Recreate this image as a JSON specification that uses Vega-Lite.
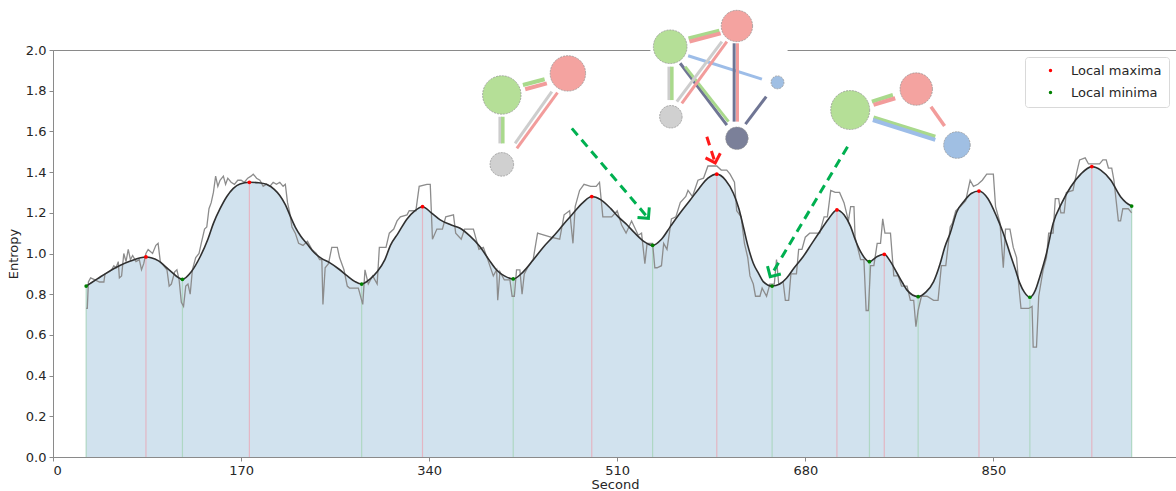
{
"$schema": "https://vega.github.io/schema/vega-lite/v6.json",
"width": 1124, "height": 407,
"autosize": "none",
"padding": {"left": 53, "top": 50, "right": 0, "bottom": 34},
"background": "white",
"config": {
  "font": "DejaVu Sans",
  "view": {"stroke": "#8a8a8a", "strokeWidth": 1},
  "axis": {"labelFont": "DejaVu Sans", "labelFontSize": 13, "labelColor": "#262626", "titleFont": "DejaVu Sans", "titleFontSize": 13, "titleFontWeight": "normal", "titleColor": "#262626", "domainColor": "#8a8a8a", "tickColor": "#8a8a8a", "tickSize": 4, "grid": false, "labelPadding": 3}
},
"datasets": {
"smooth": [
{"t":30,"e":0.84},{"t":40,"e":0.875},{"t":50,"e":0.91},{"t":60,"e":0.94},{"t":70,"e":0.963},{"t":84,"e":0.983},{"t":95,"e":0.965},{"t":105,"e":0.92},{"t":117,"e":0.873},{"t":125,"e":0.91},{"t":133,"e":0.984},{"t":140,"e":1.07},{"t":145,"e":1.148},{"t":151,"e":1.22},{"t":157,"e":1.279},{"t":163,"e":1.32},{"t":169,"e":1.342},{"t":177.5,"e":1.35},{"t":186,"e":1.348},{"t":193,"e":1.34},{"t":200,"e":1.315},{"t":205,"e":1.285},{"t":210,"e":1.24},{"t":214,"e":1.19},{"t":219,"e":1.13},{"t":224,"e":1.085},{"t":230,"e":1.045},{"t":236,"e":1.005},{"t":243,"e":0.975},{"t":250,"e":0.955},{"t":258,"e":0.925},{"t":266,"e":0.89},{"t":273,"e":0.862},{"t":279,"e":0.85},{"t":286,"e":0.872},{"t":293,"e":0.91},{"t":300,"e":0.97},{"t":305,"e":1.04},{"t":312,"e":1.1},{"t":320,"e":1.17},{"t":327,"e":1.21},{"t":334,"e":1.23},{"t":342,"e":1.2},{"t":350,"e":1.165},{"t":360,"e":1.14},{"t":368,"e":1.124},{"t":377,"e":1.085},{"t":386,"e":1.033},{"t":394,"e":0.97},{"t":401,"e":0.919},{"t":408,"e":0.89},{"t":416,"e":0.875},{"t":425,"e":0.91},{"t":434,"e":0.968},{"t":443,"e":1.03},{"t":452,"e":1.083},{"t":461,"e":1.14},{"t":470,"e":1.197},{"t":479,"e":1.25},{"t":487,"e":1.28},{"t":495,"e":1.265},{"t":504,"e":1.222},{"t":511,"e":1.18},{"t":519,"e":1.14},{"t":526,"e":1.1},{"t":534,"e":1.06},{"t":542,"e":1.04},{"t":550,"e":1.07},{"t":558,"e":1.132},{"t":567,"e":1.2},{"t":576,"e":1.263},{"t":584,"e":1.32},{"t":592,"e":1.37},{"t":600,"e":1.39},{"t":608,"e":1.36},{"t":615,"e":1.296},{"t":620,"e":1.22},{"t":624,"e":1.132},{"t":628,"e":1.04},{"t":633,"e":0.952},{"t":638,"e":0.9},{"t":642,"e":0.862},{"t":650,"e":0.84},{"t":657,"e":0.85},{"t":663,"e":0.878},{"t":670,"e":0.93},{"t":678,"e":0.984},{"t":686,"e":1.05},{"t":693,"e":1.107},{"t":701,"e":1.17},{"t":708.6,"e":1.214},{"t":715,"e":1.19},{"t":721,"e":1.132},{"t":725,"e":1.07},{"t":730,"e":1.009},{"t":738,"e":0.96},{"t":745,"e":0.985},{"t":751.4,"e":0.996},{"t":757,"e":0.96},{"t":763,"e":0.903},{"t":768,"e":0.855},{"t":772,"e":0.82},{"t":782,"e":0.788},{"t":789,"e":0.81},{"t":796,"e":0.862},{"t":802,"e":0.952},{"t":806,"e":1.03},{"t":811,"e":1.1},{"t":817,"e":1.205},{"t":824,"e":1.26},{"t":830,"e":1.295},{"t":837,"e":1.307},{"t":845,"e":1.27},{"t":853,"e":1.181},{"t":859,"e":1.1},{"t":865,"e":1.0},{"t":870,"e":0.92},{"t":874,"e":0.853},{"t":878,"e":0.81},{"t":883,"e":0.785},{"t":888,"e":0.82},{"t":892,"e":0.886},{"t":898,"e":1.0},{"t":904,"e":1.148},{"t":912,"e":1.25},{"t":920,"e":1.328},{"t":929,"e":1.39},{"t":939,"e":1.427},{"t":947,"e":1.41},{"t":956,"e":1.361},{"t":965,"e":1.279},{"t":970,"e":1.25},{"t":975,"e":1.233}
],
"raw": [
{"t":30,"e":0.73},{"t":31,"e":0.73},{"t":32,"e":0.86},{"t":34,"e":0.88},{"t":38,"e":0.87},{"t":42,"e":0.86},{"t":46,"e":0.86},{"t":47,"e":0.9},{"t":51,"e":0.91},{"t":53,"e":0.92},{"t":55,"e":0.94},{"t":57,"e":0.93},{"t":59,"e":0.96},{"t":60,"e":0.88},{"t":62,"e":0.89},{"t":64,"e":1.0},{"t":66,"e":0.96},{"t":68,"e":1.02},{"t":70,"e":0.97},{"t":72,"e":0.99},{"t":75,"e":0.96},{"t":78,"e":0.97},{"t":80,"e":0.92},{"t":82,"e":0.95},{"t":84,"e":1.0},{"t":86,"e":1.02},{"t":90,"e":1.0},{"t":93,"e":1.04},{"t":95,"e":1.05},{"t":97,"e":0.96},{"t":100,"e":0.94},{"t":103,"e":0.92},{"t":105,"e":0.84},{"t":107,"e":0.85},{"t":110,"e":0.91},{"t":112,"e":0.92},{"t":114,"e":0.87},{"t":116,"e":0.76},{"t":118,"e":0.74},{"t":120,"e":0.84},{"t":122,"e":0.85},{"t":124,"e":0.8},{"t":126,"e":0.92},{"t":129,"e":0.98},{"t":132,"e":1.0},{"t":134,"e":1.05},{"t":137,"e":1.12},{"t":139,"e":1.13},{"t":141,"e":1.22},{"t":143,"e":1.25},{"t":145,"e":1.3},{"t":147,"e":1.38},{"t":149,"e":1.33},{"t":151,"e":1.36},{"t":154,"e":1.38},{"t":156,"e":1.34},{"t":158,"e":1.37},{"t":161,"e":1.35},{"t":164,"e":1.34},{"t":167,"e":1.36},{"t":170,"e":1.36},{"t":173,"e":1.35},{"t":176,"e":1.37},{"t":179,"e":1.38},{"t":181,"e":1.39},{"t":184,"e":1.37},{"t":187,"e":1.36},{"t":190,"e":1.33},{"t":193,"e":1.34},{"t":196,"e":1.33},{"t":199,"e":1.35},{"t":202,"e":1.34},{"t":205,"e":1.35},{"t":208,"e":1.33},{"t":210,"e":1.34},{"t":212,"e":1.25},
{"t":214,"e":1.2},{"t":216,"e":1.13},{"t":219,"e":1.1},{"t":222,"e":1.05},{"t":226,"e":1.04},{"t":230,"e":1.06},{"t":234,"e":1.02},{"t":238,"e":1.0},{"t":241,"e":0.97},{"t":243,"e":0.97},{"t":244,"e":0.75},{"t":246,"e":0.93},{"t":249,"e":0.95},{"t":252,"e":1.03},{"t":257,"e":1.03},{"t":259,"e":0.98},{"t":263,"e":0.92},{"t":266,"e":0.84},{"t":268,"e":0.83},{"t":276,"e":0.83},{"t":280,"e":0.75},{"t":282,"e":0.92},{"t":285,"e":0.85},{"t":289,"e":0.89},{"t":293,"e":0.85},{"t":295,"e":1.03},{"t":301,"e":1.03},{"t":304,"e":1.1},{"t":308,"e":1.12},{"t":311,"e":1.16},{"t":314,"e":1.18},{"t":320,"e":1.19},{"t":322,"e":1.21},{"t":328,"e":1.21},{"t":331,"e":1.33},{"t":338,"e":1.34},{"t":341,"e":1.34},{"t":343,"e":1.07},{"t":347,"e":1.12},{"t":352,"e":1.12},{"t":355,"e":1.18},{"t":362,"e":1.19},{"t":364,"e":1.1},{"t":369,"e":1.07},{"t":372,"e":1.12},{"t":380,"e":1.12},{"t":385,"e":1.02},{"t":389,"e":1.03},{"t":393,"e":0.97},{"t":398,"e":0.89},{"t":401,"e":0.92},{"t":402,"e":0.77},{"t":404,"e":0.91},{"t":408,"e":0.87},{"t":413,"e":0.87},
{"t":415,"e":0.79},{"t":417,"e":0.79},{"t":419,"e":0.92},{"t":422,"e":0.92},{"t":424,"e":0.8},{"t":426,"e":0.9},{"t":429,"e":0.93},{"t":434,"e":0.97},{"t":438,"e":1.1},{"t":444,"e":1.09},{"t":450,"e":1.08},{"t":458,"e":1.07},{"t":462,"e":1.19},{"t":467,"e":1.21},{"t":470,"e":1.05},{"t":472,"e":1.23},{"t":476,"e":1.31},{"t":480,"e":1.34},{"t":486,"e":1.33},{"t":491,"e":1.33},{"t":494,"e":1.35},{"t":497,"e":1.18},{"t":505,"e":1.18},{"t":510,"e":1.21},{"t":514,"e":1.14},{"t":518,"e":1.1},{"t":523,"e":1.16},{"t":529,"e":1.09},{"t":532,"e":1.1},{"t":535,"e":0.95},{"t":537,"e":1.05},{"t":542,"e":1.05},{"t":544,"e":0.93},{"t":546,"e":0.93},{"t":550,"e":0.94},{"t":552,"e":1.05},{"t":555,"e":1.02},{"t":559,"e":1.17},{"t":563,"e":1.18},{"t":567,"e":1.25},{"t":572,"e":1.28},{"t":574,"e":1.31},{"t":578,"e":1.28},{"t":583,"e":1.36},{"t":588,"e":1.37},{"t":592,"e":1.43},{"t":600,"e":1.43},{"t":604,"e":1.41},
{"t":609,"e":1.41},{"t":612,"e":1.39},{"t":616,"e":1.35},{"t":618,"e":1.21},{"t":622,"e":1.18},{"t":625,"e":1.05},{"t":628,"e":0.98},{"t":630,"e":0.89},{"t":633,"e":0.85},{"t":635,"e":0.79},{"t":639,"e":0.79},{"t":641,"e":0.83},{"t":645,"e":0.79},{"t":648,"e":0.85},{"t":652,"e":0.85},{"t":654,"e":0.97},{"t":656,"e":0.85},{"t":660,"e":0.86},{"t":662,"e":0.77},{"t":665,"e":0.77},{"t":667,"e":0.9},{"t":672,"e":0.9},{"t":674,"e":1.02},{"t":677,"e":1.02},{"t":680,"e":1.08},{"t":684,"e":1.1},{"t":693,"e":1.1},{"t":697,"e":1.18},{"t":700,"e":1.18},{"t":703,"e":1.31},{"t":707,"e":1.3},{"t":711,"e":1.3},{"t":715,"e":1.25},{"t":719,"e":1.16},{"t":721,"e":1.23},{"t":724,"e":1.23},{"t":725,"e":1.08},{"t":730,"e":0.97},{"t":733,"e":0.97},{"t":735,"e":0.72},{"t":737,"e":0.72},{"t":739,"e":0.94},{"t":742,"e":0.94},{"t":745,"e":1.05},{"t":748,"e":1.05},{"t":750,"e":1.17},{"t":752,"e":1.1},{"t":757,"e":1.1},{"t":760,"e":0.89},{"t":764,"e":0.89},{"t":767,"e":0.84},{"t":772,"e":0.84},{"t":775,"e":0.77},{"t":778,"e":0.77},{"t":780,"e":0.64},{"t":782,"e":0.72},{"t":785,"e":0.79},{"t":790,"e":0.79},{"t":796,"e":0.77},{"t":800,"e":0.77},{"t":803,"e":0.94},{"t":807,"e":0.94},
{"t":811,"e":1.13},{"t":813,"e":1.15},{"t":816,"e":1.21},{"t":820,"e":1.23},{"t":825,"e":1.26},{"t":829,"e":1.36},{"t":832,"e":1.33},{"t":836,"e":1.34},{"t":840,"e":1.36},{"t":844,"e":1.39},{"t":850,"e":1.39},{"t":852,"e":1.23},{"t":856,"e":1.15},{"t":859,"e":0.93},{"t":861,"e":1.12},{"t":865,"e":1.12},{"t":868,"e":1.03},{"t":871,"e":0.98},{"t":873,"e":0.84},{"t":875,"e":0.73},{"t":882,"e":0.73},{"t":885,"e":0.74},{"t":886,"e":0.54},{"t":889,"e":0.54},{"t":891,"e":0.79},{"t":895,"e":0.92},{"t":898,"e":0.98},{"t":900,"e":1.1},{"t":904,"e":1.1},{"t":906,"e":1.27},{"t":909,"e":1.27},{"t":911,"e":1.2},{"t":914,"e":1.2},{"t":916,"e":1.3},{"t":922,"e":1.31},{"t":925,"e":1.39},{"t":928,"e":1.46},{"t":933,"e":1.47},{"t":936,"e":1.44},{"t":946,"e":1.44},{"t":949,"e":1.46},{"t":952,"e":1.46},{"t":954,"e":1.42},{"t":957,"e":1.42},{"t":959,"e":1.36},{"t":961,"e":1.26},{"t":963,"e":1.16},{"t":965,"e":1.16},{"t":967,"e":1.22},{"t":972,"e":1.22},{"t":975,"e":1.2}
],
"extrema": [
{"t":30,"e":0.84,"type":"Local minima"},{"t":117,"e":0.873,"type":"Local minima"},{"t":279,"e":0.85,"type":"Local minima"},{"t":416,"e":0.875,"type":"Local minima"},{"t":542,"e":1.04,"type":"Local minima"},{"t":650,"e":0.84,"type":"Local minima"},{"t":738,"e":0.96,"type":"Local minima"},{"t":782,"e":0.788,"type":"Local minima"},{"t":883,"e":0.785,"type":"Local minima"},{"t":975,"e":1.233,"type":"Local minima"},
{"t":84,"e":0.983,"type":"Local maxima"},{"t":177.5,"e":1.35,"type":"Local maxima"},{"t":334,"e":1.23,"type":"Local maxima"},{"t":487,"e":1.28,"type":"Local maxima"},{"t":600,"e":1.39,"type":"Local maxima"},{"t":708.6,"e":1.214,"type":"Local maxima"},{"t":751.4,"e":0.996,"type":"Local maxima"},{"t":837,"e":1.307,"type":"Local maxima"},{"t":939,"e":1.427,"type":"Local maxima"}
],
"boxes": [{"t":540,"t2":664,"e":1.97,"e2":2.03}],
"edges": [
{"t":424.8,"e":1.828,"t2":444.4,"e2":1.856,"kind":"green","w":"heavy"},
{"t":426.8,"e":1.807,"t2":446.4,"e2":1.836,"kind":"red","w":"heavy"},
{"t":404.2,"e":1.672,"t2":404.2,"e2":1.541,"kind":"gray","w":"mid"},
{"t":406.6,"e":1.672,"t2":406.6,"e2":1.541,"kind":"green","w":"mid"},
{"t":450.9,"e":1.795,"t2":417.7,"e2":1.541,"kind":"gray","w":"light"},
{"t":456.0,"e":1.79,"t2":419.3,"e2":1.517,"kind":"red","w":"light"},
{"t":574.4,"e":2.057,"t2":602.3,"e2":2.095,"kind":"green","w":"heavy"},
{"t":575.3,"e":2.041,"t2":603.5,"e2":2.082,"kind":"red","w":"heavy"},
{"t":557.0,"e":1.918,"t2":557.0,"e2":1.754,"kind":"gray","w":"mid"},
{"t":559.4,"e":1.918,"t2":559.4,"e2":1.754,"kind":"green","w":"mid"},
{"t":574.1,"e":1.972,"t2":640.8,"e2":1.857,"kind":"blue","w":"light"},
{"t":566.9,"e":1.935,"t2":609.1,"e2":1.631,"kind":"navy","w":"light"},
{"t":571.4,"e":1.918,"t2":610.6,"e2":1.648,"kind":"green","w":"light"},
{"t":604.6,"e":2.041,"t2":563.9,"e2":1.746,"kind":"gray","w":"light"},
{"t":609.1,"e":2.041,"t2":568.4,"e2":1.738,"kind":"red","w":"light"},
{"t":615.7,"e":2.033,"t2":615.7,"e2":1.648,"kind":"navy","w":"light"},
{"t":618.7,"e":2.033,"t2":618.7,"e2":1.648,"kind":"red","w":"light"},
{"t":644.7,"e":1.771,"t2":625.9,"e2":1.636,"kind":"navy","w":"light"},
{"t":740.2,"e":1.746,"t2":759.2,"e2":1.779,"kind":"green","w":"heavy"},
{"t":741.7,"e":1.73,"t2":761.3,"e2":1.763,"kind":"red","w":"heavy"},
{"t":741.7,"e":1.669,"t2":797.5,"e2":1.574,"kind":"green","w":"heavy"},
{"t":741.1,"e":1.656,"t2":797.5,"e2":1.558,"kind":"blue","w":"heavy"},
{"t":793.6,"e":1.721,"t2":805.9,"e2":1.627,"kind":"red","w":"mid"}
],
"nodes": [
{"t":405.7,"e":1.779,"kind":"green","w":21.7},
{"t":465.4,"e":1.885,"kind":"red","w":20},
{"t":405.7,"e":1.438,"kind":"gray","w":13.3},
{"t":557.9,"e":2.016,"kind":"green","w":19},
{"t":618.2,"e":2.118,"kind":"red","w":17.7},
{"t":654.9,"e":1.841,"kind":"blue","w":7.3},
{"t":558.5,"e":1.672,"kind":"gray","w":12.7},
{"t":618.2,"e":1.566,"kind":"navy","w":12.7},
{"t":720.6,"e":1.705,"kind":"green","w":22},
{"t":780.3,"e":1.808,"kind":"red","w":18.3},
{"t":817.1,"e":1.533,"kind":"blue","w":15}
],
"arrows": [
{"t":469.0,"e":1.615,"t2":538.2,"e2":1.173,"kind":"min","dir":49.6},
{"t":591.0,"e":1.574,"t2":598.6,"e2":1.445,"kind":"max","dir":72.5},
{"t":718.2,"e":1.525,"t2":648.3,"e2":0.886,"kind":"min","dir":120.7}
]
},
"layer": [
{
  "data": {"name": "smooth"},
  "mark": {"type": "area", "interpolate": "monotone", "color": "#d1e2ee", "opacity": 1},
  "encoding": {
    "x": {"field": "t", "type": "quantitative", "scale": {"domain": [0, 1016], "nice": false, "zero": false},
          "axis": {"title": "Second", "values": [0, 170, 340, 510, 680, 850], "titlePadding": 1}},
    "y": {"field": "e", "type": "quantitative", "scale": {"domain": [0, 2], "nice": false},
          "axis": {"title": "Entropy", "values": [0, 0.2, 0.4, 0.6, 0.8, 1.0, 1.2, 1.4, 1.6, 1.8, 2.0], "format": ".1f", "titlePadding": 5}}
  }
},
{
  "data": {"name": "extrema"},
  "mark": {"type": "rule", "strokeWidth": 1.2},
  "encoding": {
    "x": {"field": "t", "type": "quantitative"},
    "y": {"field": "e", "type": "quantitative"},
    "y2": {"datum": 0},
    "color": {"field": "type", "type": "nominal", "scale": {"domain": ["Local maxima", "Local minima"], "range": ["#e3b6c3", "#afd7c4"]}, "legend": null}
  }
},
{
  "data": {"name": "raw"},
  "mark": {"type": "line", "color": "#8c8c8c", "strokeWidth": 1.3},
  "encoding": {
    "x": {"field": "t", "type": "quantitative"},
    "y": {"field": "e", "type": "quantitative"}
  }
},
{
  "data": {"name": "smooth"},
  "mark": {"type": "line", "interpolate": "monotone", "color": "#303030", "strokeWidth": 1.6},
  "encoding": {
    "x": {"field": "t", "type": "quantitative"},
    "y": {"field": "e", "type": "quantitative"}
  }
},
{
  "data": {"name": "extrema"},
  "mark": {"type": "point", "filled": true, "size": 14, "opacity": 1},
  "encoding": {
    "x": {"field": "t", "type": "quantitative"},
    "y": {"field": "e", "type": "quantitative"},
    "color": {"field": "type", "type": "nominal", "scale": {"domain": ["Local maxima", "Local minima"], "range": ["#ff0000", "#008000"]},
      "legend": {"title": null, "orient": "none", "legendX": 972, "legendY": 7, "padding": 7, "strokeColor": "#d9d9d9", "fillColor": "white", "cornerRadius": 3, "symbolType": "circle", "symbolSize": 12, "symbolOffset": 12, "labelOffset": 14, "labelFontSize": 13, "labelFont": "DejaVu Sans", "labelColor": "#262626", "rowPadding": 8, "symbolStrokeWidth": 0}}
  }
},
{
  "data": {"name": "boxes"},
  "mark": {"type": "rect", "color": "white"},
  "encoding": {
    "x": {"field": "t", "type": "quantitative"},
    "x2": {"field": "t2"},
    "y": {"field": "e", "type": "quantitative"},
    "y2": {"field": "e2"}
  }
},
{
  "data": {"name": "edges"},
  "mark": {"type": "rule", "strokeCap": "butt"},
  "encoding": {
    "x": {"field": "t", "type": "quantitative"},
    "y": {"field": "e", "type": "quantitative"},
    "x2": {"field": "t2"},
    "y2": {"field": "e2"},
    "color": {"field": "kind", "type": "nominal", "scale": {"domain": ["green", "red", "gray", "blue", "navy"], "range": ["#a9d98c", "#f29c9b", "#cdcdcd", "#9dbde8", "#6f7594"]}, "legend": null},
    "strokeWidth": {"field": "w", "type": "nominal", "scale": {"domain": ["heavy", "mid", "light"], "range": [4, 3, 1.6]}, "legend": null}
  }
},
{
  "data": {"name": "nodes"},
  "mark": {"type": "point", "filled": true, "opacity": 1, "stroke": "#8f8f8f", "strokeWidth": 0.7, "strokeDash": [2, 1]},
  "encoding": {
    "x": {"field": "t", "type": "quantitative"},
    "y": {"field": "e", "type": "quantitative"},
    "color": {"field": "kind", "type": "nominal", "scale": {"domain": ["green", "red", "gray", "blue", "navy"], "range": ["#b5df97", "#f4a3a0", "#d0d0d0", "#a0bfe3", "#7b8099"]}, "legend": null},
    "size": {"field": "w", "type": "quantitative", "scale": {"type": "pow", "exponent": 2, "domain": [0, 22], "range": [0, 1520]}, "legend": null}
  }
},
{
  "data": {"name": "arrows"},
  "mark": {"type": "rule", "strokeWidth": 3, "strokeDash": [9, 6]},
  "encoding": {
    "x": {"field": "t", "type": "quantitative"},
    "y": {"field": "e", "type": "quantitative"},
    "x2": {"field": "t2"},
    "y2": {"field": "e2"},
    "color": {"field": "kind", "type": "nominal", "scale": {"domain": ["min", "max"], "range": ["#00b050", "#ff1a1a"]}, "legend": null}
  }
},
{
  "data": {"name": "arrows"},
  "mark": {"type": "point", "filled": false, "shape": "M-1,-1L0,0L-1,1", "size": 240, "strokeWidth": 3, "opacity": 1},
  "encoding": {
    "x": {"field": "t2", "type": "quantitative"},
    "y": {"field": "e2", "type": "quantitative"},
    "angle": {"field": "dir", "type": "quantitative", "scale": null},
    "color": {"field": "kind", "type": "nominal", "scale": {"domain": ["min", "max"], "range": ["#00b050", "#ff1a1a"]}, "legend": null}
  }
}
],
"resolve": {"scale": {"color": "independent", "size": "independent", "strokeWidth": "independent"}}
}
